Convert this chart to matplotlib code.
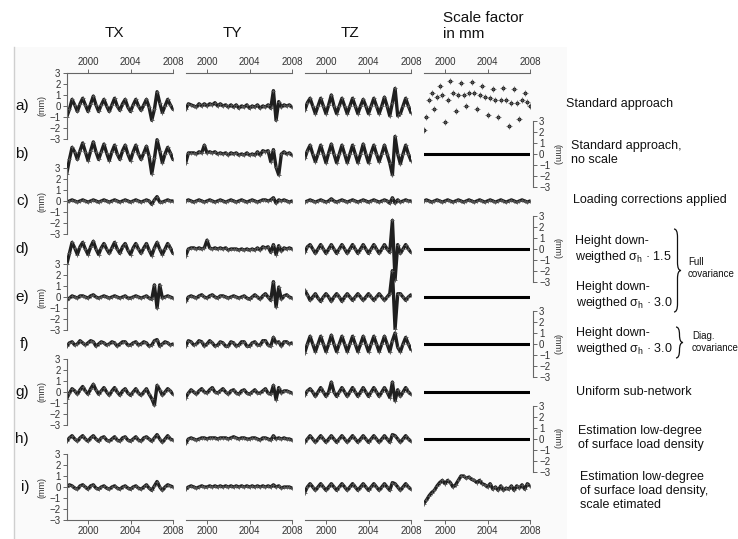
import matplotlib.pyplot as plt
import matplotlib.patches as mpatches
from matplotlib.path import Path
import numpy as np

plt.rcParams['font.family'] = ['Liberation Sans', 'DejaVu Sans']
plt.rcParams['mathtext.fontset'] = 'custom'
plt.rcParams['mathtext.rm'] = 'Liberation Sans'

# quarterly sampling, 1998.0 .. 2008.0
quarters = np.arange(1998.0, 2008.01, 0.25)

# ---- TX (mm) ----
tx_a = [-1.0,-0.3,0.6,0.1, -0.5,0.2,0.7,0.1, -0.5,0.2,0.9,0.1, -0.5,0.1,0.6,0.0, -0.5,0.1,0.7,0.0,
        -0.4,0.2,0.6,-0.1, -0.5,0.1,0.6,0.0, -0.4,0.1,0.6,-0.1, -1.3,-0.3,1.3,0.3, -0.6,0.0,0.6,0.1, -0.3]
tx_b = [-1.8,-0.5,0.6,0.2, -0.5,0.3,1.0,0.2, -0.6,0.3,1.1,0.2, -0.5,0.2,0.9,0.1, -0.6,0.2,0.8,0.0,
        -0.5,0.3,0.8,0.0, -0.6,0.2,0.8,0.0, -0.5,0.1,0.7,-0.2, -1.8,-0.4,1.3,0.3, -0.8,0.0,0.6,0.1, -0.5]
tx_c = [-0.1,0.0,0.1,0.0, -0.1,0.0,0.1,0.0, -0.1,0.0,0.1,0.0, -0.1,0.0,0.1,0.0, -0.1,0.0,0.1,0.0,
        -0.1,0.0,0.1,0.0, -0.1,0.0,0.1,0.0, -0.1,0.0,0.1,0.0, -0.3,0.1,0.4,-0.1, -0.1,0.0,0.1,0.0, 0.0]
tx_d = [-1.4,-0.4,0.6,0.1, -0.5,0.2,0.6,0.0, -0.5,0.2,0.7,0.0, -0.5,0.1,0.5,0.0, -0.4,0.1,0.6,0.0,
        -0.4,0.2,0.5,-0.1, -0.5,0.1,0.5,0.0, -0.4,0.1,0.5,-0.1, -0.6,0.1,0.6,0.0, -0.5,0.0,0.5,0.1, -0.4]
tx_e = [-0.3,-0.1,0.1,0.0, -0.1,0.1,0.1,0.0, -0.1,0.1,0.2,0.0, -0.1,0.0,0.1,0.0, -0.1,0.0,0.1,0.0,
        -0.1,0.0,0.1,-0.1, -0.1,0.0,0.1,0.0, -0.1,0.0,0.1,-0.1, -0.2,1.1,-1.0,1.1, -0.1,0.0,0.1,0.0, -0.1]
tx_f = [-0.2,0.1,0.2,-0.1, 0.0,0.3,0.1,-0.1, 0.1,0.3,0.2,-0.2, 0.0,0.2,0.1,-0.1, 0.0,0.2,0.1,-0.2,
        0.0,0.2,0.2,-0.1, -0.1,0.1,0.2,-0.1, 0.0,0.2,0.1,-0.2, -0.1,0.3,0.4,-0.2, 0.0,0.2,0.1,-0.1, 0.0]
tx_g = [-0.6,-0.1,0.3,0.1, -0.2,0.2,0.5,0.1, -0.2,0.3,0.7,0.2, -0.2,0.1,0.4,0.0, -0.3,0.1,0.4,0.0,
        -0.3,0.1,0.3,-0.1, -0.3,0.0,0.3,-0.1, -0.3,0.0,0.3,-0.2, -0.6,-1.2,0.6,0.2, -0.3,0.0,0.3,0.1, -0.2]
tx_h = [-0.2,0.1,0.3,0.0, -0.2,0.1,0.3,0.0, -0.2,0.1,0.3,0.0, -0.2,0.1,0.2,-0.1, -0.2,0.0,0.2,-0.1,
        -0.2,0.1,0.2,-0.1, -0.2,0.0,0.2,-0.1, -0.2,0.1,0.2,0.0, -0.2,0.1,0.4,0.0, -0.3,0.0,0.3,0.0, -0.1]
tx_i = [0.0,0.2,0.1,-0.1, -0.2,0.1,0.2,0.0, -0.2,0.1,0.2,-0.1, -0.2,0.0,0.1,-0.1, -0.2,0.0,0.1,-0.1,
        -0.2,0.0,0.1,-0.1, -0.2,0.0,0.1,-0.1, -0.2,0.0,0.2,-0.1, -0.3,0.1,0.5,0.0, -0.3,0.0,0.2,0.1, 0.0]

# ---- TY (mm) ----
ty_a = [-0.3,0.2,0.1,0.0, -0.1,0.2,0.0,0.2, 0.0,0.2,0.1,0.3, 0.0,0.2,0.0,0.1, -0.1,0.1,-0.1,0.1,
        -0.2,0.0,-0.1,0.1, -0.2,0.0,-0.1,0.1, -0.2,0.0,-0.1,0.1, -0.2,1.4,-1.3,0.4, -0.1,0.1,0.0,0.1, -0.1]
ty_b = [-0.8,0.1,0.1,0.1, 0.0,0.2,0.1,0.8, 0.1,0.2,0.1,0.2, 0.0,0.1,0.0,0.1, -0.1,0.1,0.0,0.1,
        -0.1,0.0,-0.1,0.1, -0.1,0.0,-0.1,0.2, -0.1,0.3,0.2,0.3, -0.7,0.4,-1.2,-1.9, 0.0,0.2,0.0,0.1, -0.1]
ty_c = [0.0,0.1,0.0,-0.1, 0.0,0.1,0.0,-0.1, 0.0,0.1,0.0,-0.1, 0.0,0.1,0.0,-0.1, 0.0,0.1,0.0,-0.1,
        0.0,0.1,0.0,-0.1, 0.0,0.1,0.0,-0.1, 0.0,0.1,0.1,0.0, 0.1,0.3,-0.2,0.1, 0.0,0.1,0.0,-0.1, 0.0]
ty_d = [-0.6,0.0,0.1,0.1, 0.0,0.1,0.0,0.1, 0.8,0.1,0.0,0.1, 0.0,0.1,0.0,0.1, -0.1,0.0,0.0,0.0,
        -0.1,0.0,-0.1,0.0, -0.1,0.0,-0.1,0.1, -0.1,0.2,0.1,0.2, -0.3,0.4,-0.5,0.3, -0.2,0.1,0.0,0.1, 0.0]
ty_e = [-0.4,0.0,0.1,0.0, -0.1,0.1,0.2,0.0, -0.1,0.1,0.2,0.0, -0.1,0.1,0.1,0.0, -0.1,0.0,0.1,0.0,
        -0.1,0.0,0.1,-0.1, -0.2,0.0,0.2,0.0, -0.2,0.1,0.3,0.0, -0.3,1.4,-0.9,0.9, -0.2,0.1,0.2,0.0, -0.1]
ty_f = [-0.2,0.3,0.2,-0.1, 0.0,0.3,0.2,-0.2, 0.0,0.3,0.1,-0.2, -0.1,0.2,0.1,-0.2, -0.2,0.2,0.1,-0.2,
        -0.1,0.2,0.2,-0.2, -0.2,0.1,0.2,-0.1, -0.1,0.3,0.3,-0.1, -0.2,0.6,0.1,0.2, -0.2,0.2,0.2,0.0, 0.1]
ty_g = [-0.5,-0.1,0.2,0.0, -0.2,0.1,0.3,0.0, -0.1,0.2,0.4,0.0, -0.1,0.1,0.3,0.0, -0.2,0.1,0.2,-0.1,
        -0.2,0.1,0.2,-0.1, -0.2,0.0,0.2,-0.1, -0.1,0.1,0.3,-0.1, -0.2,0.6,-0.7,0.4, -0.1,0.1,0.1,0.0, -0.1]
ty_h = [-0.4,0.0,0.1,0.0, -0.1,0.0,0.1,0.1, 0.0,0.1,0.1,0.1, 0.0,0.1,0.1,0.1, 0.0,0.1,0.2,0.1,
        0.0,0.1,0.1,0.0, 0.0,0.1,0.1,0.0, -0.1,0.1,0.1,0.0, -0.1,0.3,0.0,0.1, 0.0,0.1,0.0,0.0, -0.1]
ty_i = [-0.2,0.0,0.1,0.0, -0.1,0.0,0.1,0.0, 0.0,0.1,0.0,0.1, 0.0,0.1,0.0,0.1, 0.0,0.1,0.0,0.1,
        0.0,0.1,0.0,0.1, 0.0,0.1,0.0,0.1, 0.0,0.1,0.0,0.1, 0.0,0.2,0.0,0.1, -0.1,0.0,0.0,0.0, -0.1]

# ---- TZ (mm) ----
tz_a = [-0.4,0.3,0.7,0.0, -0.7,0.0,0.7,0.0, -0.7,0.1,1.0,0.0, -0.7,0.0,0.7,0.0, -0.7,0.0,0.7,0.0,
        -0.7,0.0,0.6,0.0, -0.7,0.0,0.7,0.0, -0.7,0.0,0.8,0.0, -0.9,0.3,1.6,-0.9, -0.7,0.0,0.7,0.0, -0.6]
tz_b = [-0.4,0.3,0.8,0.0, -0.7,0.0,0.8,0.0, -0.8,0.1,0.9,0.0, -0.8,0.0,0.8,0.0, -0.8,0.0,0.8,0.0,
        -0.8,0.0,0.9,0.0, -0.8,0.1,0.8,0.0, -0.7,0.0,0.8,0.0, -0.8,-1.9,1.6,0.0, -0.9,0.0,0.8,0.0, -0.6]
tz_c = [-0.1,0.0,0.1,0.0, -0.1,0.0,0.1,0.0, -0.1,0.0,0.2,0.0, -0.1,0.0,0.1,0.0, -0.1,0.0,0.1,0.0,
        -0.1,0.0,0.1,0.0, -0.1,0.0,0.1,0.0, -0.1,0.0,0.1,0.0, -0.2,0.3,-0.2,0.1, -0.1,0.0,0.1,0.0, 0.0]
tz_d = [-0.3,0.2,0.4,0.0, -0.4,0.0,0.4,0.0, -0.4,0.0,0.4,0.0, -0.4,0.0,0.4,0.0, -0.4,0.0,0.4,0.0,
        -0.4,0.0,0.4,0.0, -0.4,0.0,0.4,0.0, -0.4,0.0,0.4,0.0, -0.3,2.6,-2.8,0.4, -0.4,0.0,0.4,0.0, -0.3]
tz_e = [0.6,0.2,-0.3,0.0, 0.3,-0.1,-0.4,0.0, 0.3,0.0,-0.4,0.0, 0.3,0.0,-0.4,0.0, 0.3,0.0,-0.3,0.0,
        0.3,0.0,-0.3,0.0, 0.3,0.0,-0.3,0.0, 0.3,0.0,-0.3,0.0, 0.3,2.4,-2.9,0.3, 0.3,0.0,-0.3,0.0, 0.2]
tz_f = [-0.8,0.0,0.7,0.0, -0.7,0.0,0.7,0.0, -0.7,0.0,0.8,0.0, -0.7,0.0,0.7,0.0, -0.7,0.0,0.7,0.0,
        -0.7,0.0,0.7,0.0, -0.7,0.0,0.7,0.0, -0.7,0.0,0.7,0.0, -0.7,0.3,1.0,-0.3, -0.7,0.0,0.6,0.0, -0.5]
tz_g = [-0.3,0.1,0.3,0.0, -0.4,0.0,0.4,0.0, -0.4,0.0,0.9,0.0, -0.4,0.0,0.4,0.0, -0.4,0.0,0.4,0.0,
        -0.4,0.0,0.4,0.0, -0.4,0.0,0.4,0.0, -0.4,0.0,0.4,0.0, -0.5,0.9,-0.8,0.2, -0.4,0.0,0.4,0.0, -0.2]
tz_h = [-0.3,0.0,0.3,0.0, -0.3,0.0,0.3,0.0, -0.3,0.0,0.3,0.0, -0.3,0.0,0.3,0.0, -0.3,0.0,0.3,0.0,
        -0.3,0.0,0.3,0.0, -0.3,0.0,0.3,0.0, -0.3,0.0,0.3,0.0, -0.3,0.4,0.3,0.0, -0.3,0.0,0.3,0.0, -0.2]
tz_i = [-0.5,0.0,0.3,0.0, -0.3,0.0,0.3,0.0, -0.3,0.0,0.3,0.0, -0.3,0.0,0.3,0.0, -0.3,0.0,0.3,0.0,
        -0.3,0.0,0.3,0.0, -0.3,0.0,0.3,0.0, -0.3,0.0,0.3,0.0, -0.3,0.4,0.3,0.0, -0.3,0.0,0.3,0.0, -0.2]

# ---- scale factor (mm); rows without estimated scale are zero ----
sc_a = [-2.2,-1.0,0.5,1.2, -0.3,0.8,1.8,1.0, -1.5,0.5,2.3,1.2, -0.5,1.0,2.1,1.0, 0.0,1.2,2.2,1.2,
        -0.3,1.0,1.8,0.8, -0.8,0.7,1.5,0.5, -1.0,0.5,1.6,0.5, -1.8,0.3,1.5,0.3, -1.2,0.5,1.2,0.4, 0.0]
sc_c = [0.0,0.1,0.0,-0.1, 0.0,0.1,0.0,-0.1, 0.0,0.1,0.0,-0.1, 0.0,0.1,0.0,-0.1, 0.0,0.1,0.0,-0.1,
        0.0,0.1,0.0,-0.1, 0.0,0.1,0.0,-0.1, 0.0,0.1,0.0,-0.1, 0.0,0.1,0.0,-0.1, 0.0,0.1,0.0,-0.1, 0.0]
sc_i = [-1.5,-1.2,-0.8,-0.5, -0.3,0.1,0.4,0.6, 0.3,0.6,0.4,0.0, 0.2,0.6,1.0,1.0, 0.8,0.9,0.7,0.6,
        0.4,0.6,0.3,0.2, 0.0,0.3,-0.2,0.0, -0.3,0.1,-0.3,-0.1, -0.2,0.1,-0.3,0.1, -0.1,0.2,-0.2,0.3, 0.1]
sc_zero = 0.0

row_letters = ['a', 'b', 'c', 'd', 'e', 'f', 'g', 'h', 'i']
col_titles = ['TX', 'TY', 'TZ']
year_ticks = [2000, 2004, 2008]
mm_ticks = [-3, -2, -1, 0, 1, 2, 3]

annotations = [
    ("Standard approach", 104),
    ("Standard approach,\nno scale", 153),
    ("Loading corrections applied", 200),
    ("Height down-\nweigthed \u03c3$_\\mathrm{h}$ \u00b7 1.5", 250),
    ("Height down-\nweigthed \u03c3$_\\mathrm{h}$ \u00b7 3.0", 296),
    ("Height down-\nweigthed \u03c3$_\\mathrm{h}$ \u00b7 3.0", 342),
    ("Uniform sub-network", 392),
    ("Estimation low-degree\nof surface load density", 438),
    ("Estimation low-degree\nof surface load density,\nscale etimated", 491),
]
annot_x = [566, 571, 573, 575, 576, 576, 576, 578, 580]

table = {
    'TX': [tx_a, tx_b, tx_c, tx_d, tx_e, tx_f, tx_g, tx_h, tx_i],
    'TY': [ty_a, ty_b, ty_c, ty_d, ty_e, ty_f, ty_g, ty_h, ty_i],
    'TZ': [tz_a, tz_b, tz_c, tz_d, tz_e, tz_f, tz_g, tz_h, tz_i],
}
scale_rows = {0: sc_a, 2: sc_c, 8: sc_i}

W, H = 738, 539
fig = plt.figure(figsize=(W / 100, H / 100), dpi=100)

row_y = [106, 154, 201, 249, 297, 344, 392, 439, 487]
col_x = [66.75, 185.75, 304.75, 423.75]
pw, ph = 106.25, 66
ink = '#1f1f1f'
axc = '#666666'

# faint page background
bg = fig.add_axes([0, 0, 1, 1], zorder=-10)
bg.set_xlim(0, W); bg.set_ylim(H, 0); bg.axis('off')
bg.add_patch(mpatches.Rectangle((14, 47), 553, H - 47, facecolor='#fafafa', edgecolor='none'))
bg.plot([14, 14], [47, H], color='#cfcfcf', lw=1)


def panel(x0, yc):
    ax = fig.add_axes([x0 / W, 1 - (yc + ph / 2) / H, pw / W, ph / H])
    ax.set_xlim(1998, 2008)
    ax.set_ylim(-3, 3)
    ax.patch.set_alpha(0)
    for s in ax.spines.values():
        s.set_visible(False)
        s.set_color(axc)
        s.set_linewidth(0.8)
    ax.set_xticks([]); ax.set_yticks([])
    return ax


def cloud(ax, vals):
    ax.plot(quarters, vals, color=ink, lw=2.4, solid_joinstyle='round', solid_capstyle='round')
    ax.plot(quarters, vals, '+', color='#555', ms=3.5, mew=0.6)


for r in range(9):
    for c in range(4):
        ax = panel(col_x[c], row_y[r])
        if c < 3:
            cloud(ax, table[col_titles[c]][r])
        elif r == 0:
            ax.plot(quarters, sc_a, 'o', color=ink, ms=2.8, mew=0)
            ax.plot(quarters, sc_a, '+', color='#555', ms=5, mew=0.5)
        elif r in scale_rows:
            cloud(ax, scale_rows[r])
        else:
            ax.axhline(sc_zero, color='black', lw=2.2)

        tp = dict(labelsize=7, length=3, width=0.7, color=axc, labelcolor='#333', pad=1.5)
        if r == 0:
            ax.spines['top'].set_visible(True)
            ax.xaxis.tick_top()
            ax.set_xticks(year_ticks)
            ax.tick_params(axis='x', **tp)
        if r == 8:
            ax.spines['bottom'].set_visible(True)
            ax.set_xticks(year_ticks)
            ax.tick_params(axis='x', **tp)
        if c == 0 and r % 2 == 0:
            ax.spines['left'].set_visible(True)
            ax.set_yticks(mm_ticks)
            ax.tick_params(axis='y', **tp)
        if c == 3 and r % 2 == 1:
            ax.spines['right'].set_visible(True)
            ax.spines['right'].set_position(('outward', 2))
            ax.yaxis.tick_right()
            ax.set_yticks(mm_ticks)
            ax.tick_params(axis='y', **tp)

# overlay for text and braces
ov = fig.add_axes([0, 0, 1, 1], zorder=10)
ov.set_xlim(0, W); ov.set_ylim(H, 0); ov.axis('off')

for c, t in enumerate(col_titles):
    ov.text(114 + 118 * c, 33, t, fontsize=11, ha='center', va='center', color='#111')
ov.text(443, 26, "Scale factor\nin mm", fontsize=11, ha='left', va='center',
        linespacing=1.15, color='#111')

for r, letter in enumerate(row_letters):
    ov.text(29, row_y[r], letter + ')', fontsize=11, ha='right', va='center', color='#111')
    if r % 2 == 0:
        ov.text(42, row_y[r], '(mm)', fontsize=6.5, rotation=90, ha='center', va='center', color='#333')
    else:
        ov.text(557, row_y[r], '(mm)', fontsize=6.5, rotation=270, ha='center', va='center', color='#333')

for (txt, y), x in zip(annotations, annot_x):
    ov.text(x, y, txt, fontsize=9, ha='left', va='center', linespacing=1.25, color='#111')


def brace(x, y0, y1, d=3.5):
    ym = (y0 + y1) / 2
    r = min(8, (y1 - y0) / 4)
    verts = [(x, y0), (x + d, y0), (x + d, y0 + r), (x + d, y0 + r),
             (x + d, ym - r), (x + d, ym), (x + 2 * d, ym),
             (x + d, ym), (x + d, ym + r), (x + d, ym + r),
             (x + d, y1 - r), (x + d, y1), (x, y1)]
    codes = [Path.MOVETO, Path.CURVE3, Path.CURVE3, Path.LINETO,
             Path.LINETO, Path.CURVE3, Path.CURVE3,
             Path.CURVE3, Path.CURVE3, Path.LINETO,
             Path.LINETO, Path.CURVE3, Path.CURVE3]
    ov.add_patch(mpatches.PathPatch(Path(verts, codes), fill=False, lw=0.9, edgecolor='#111'))


brace(674, 229, 312)
brace(676, 327, 358)
ov.text(688, 268, "Full\ncovariance", fontsize=7, ha='left', va='center', linespacing=1.3, color='#111')
ov.text(692, 342, "Diag.\ncovariance", fontsize=7, ha='left', va='center', linespacing=1.3, color='#111')

fig.savefig('out.png', dpi=100)
